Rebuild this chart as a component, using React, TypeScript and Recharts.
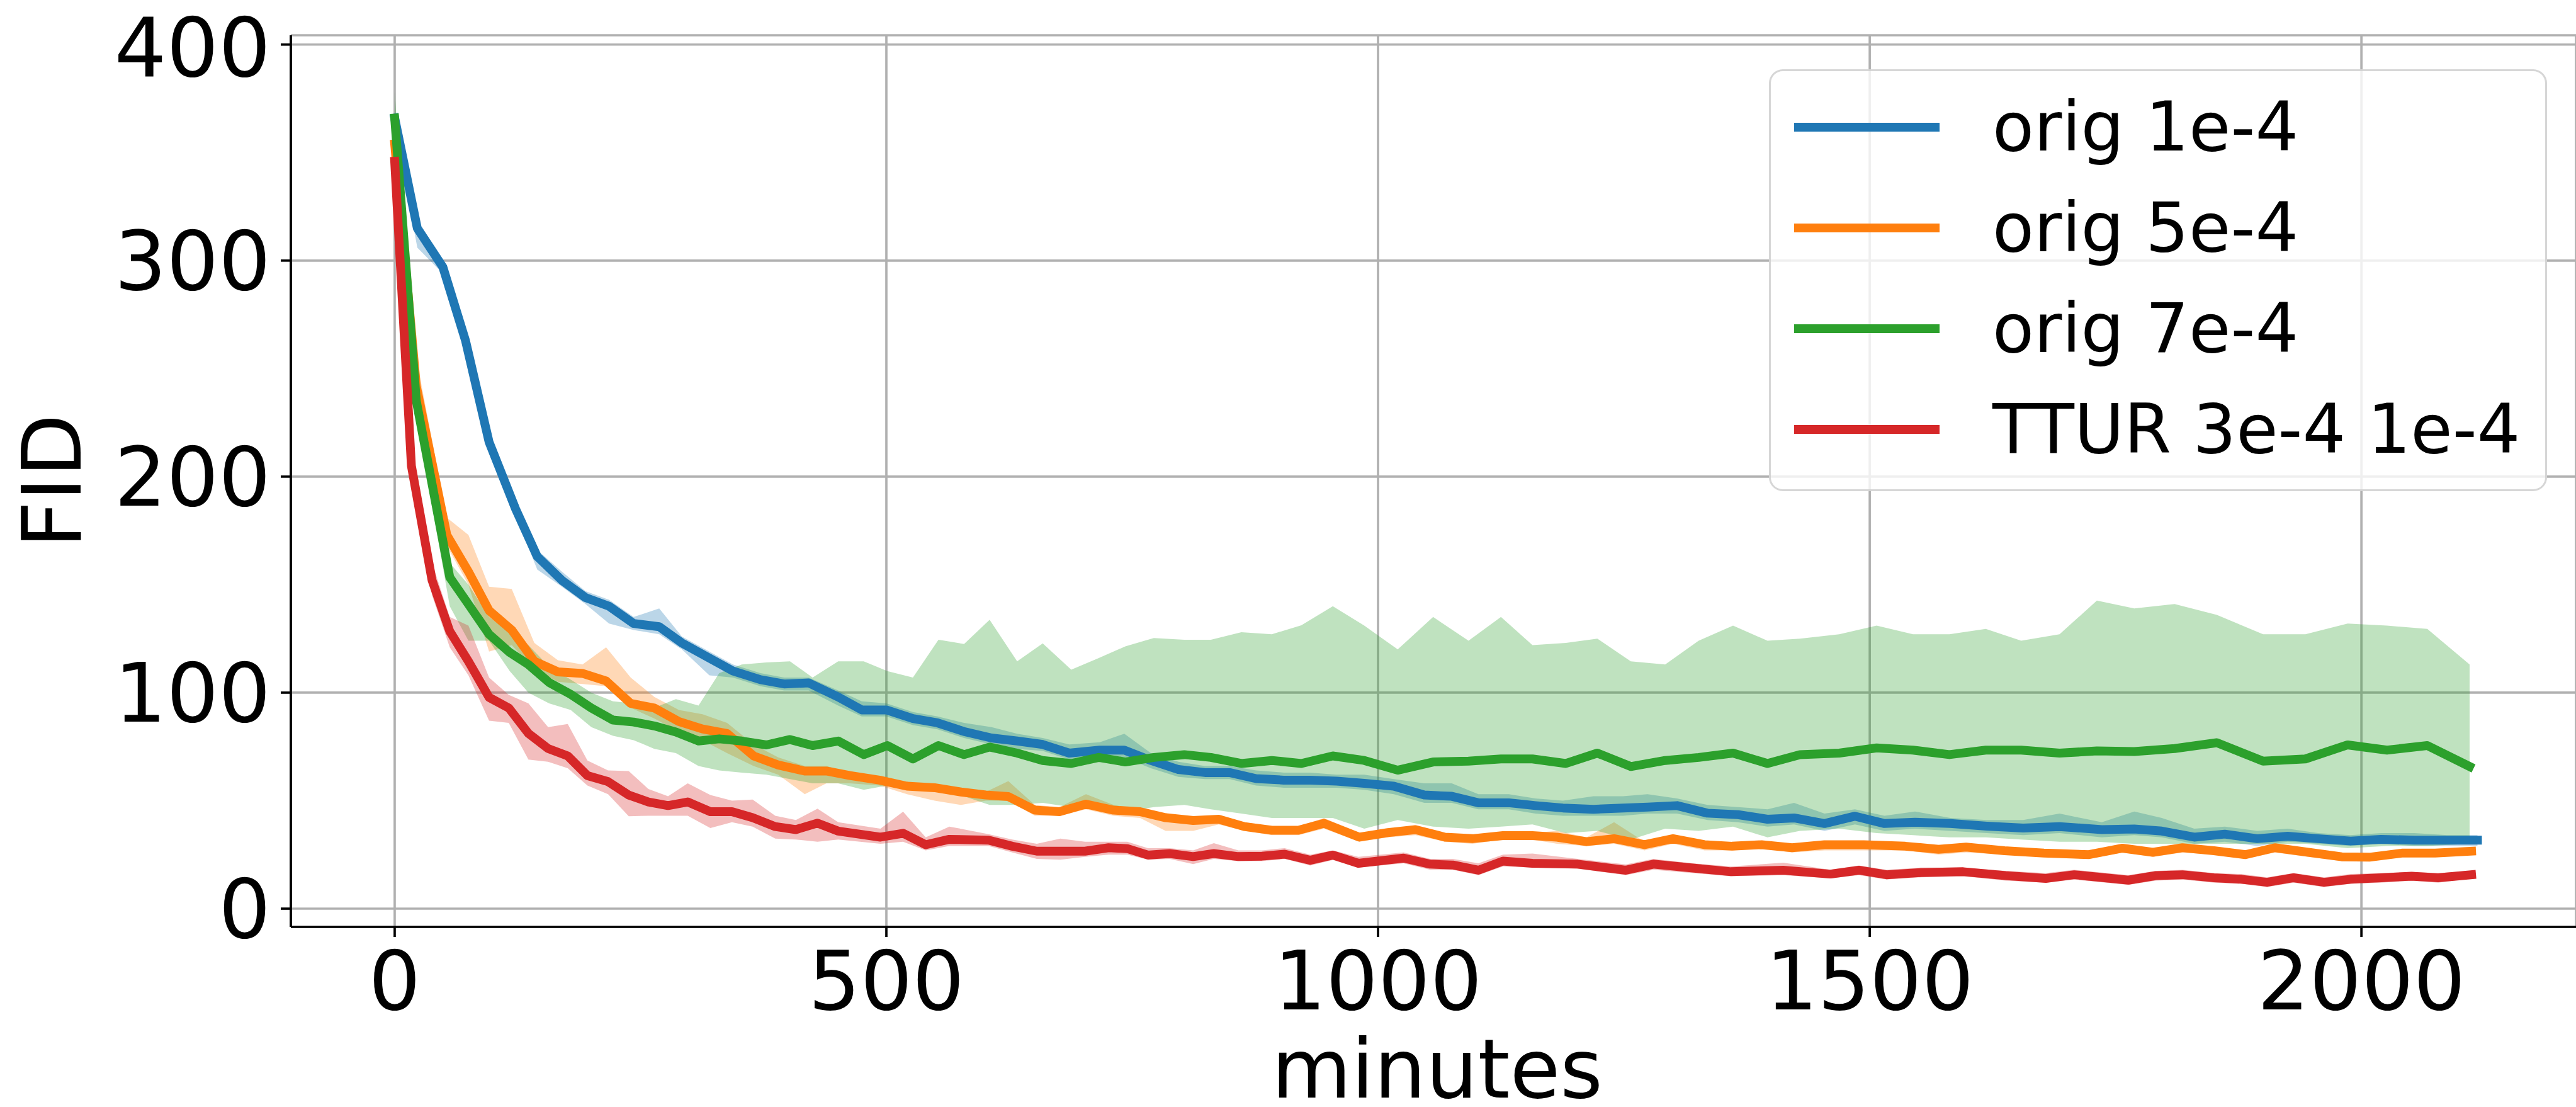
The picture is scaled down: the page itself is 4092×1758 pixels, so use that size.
import React from 'react';
import { ComposedChart, Line, Area, XAxis, YAxis, CartesianGrid, Legend } from 'recharts';

// orig 1e-4
const blueMinutes = [0, 23, 49, 72, 96, 123, 145, 170, 194, 218, 243, 269, 292, 320, 344, 372, 396, 421, 451, 475, 500, 527, 552, 579, 607, 633, 659, 686, 717, 742, 769, 797, 824, 849, 876, 904, 931, 958, 986, 1016, 1047, 1075, 1102, 1133, 1160, 1188, 1219, 1249, 1274, 1304, 1335, 1366, 1396, 1423, 1454, 1485, 1515, 1546, 1582, 1619, 1656, 1693, 1736, 1769, 1797, 1830, 1861, 1894, 1925, 1956, 1989, 2020, 2054, 2087, 2118];
const blueFid = [366, 315, 297, 263, 216, 185, 163, 152, 144, 140, 132, 130.5, 123, 116, 110, 106, 104, 104.5, 98, 92, 92, 88, 86, 82, 79, 77.6, 76, 72, 73.4, 73.4, 68.6, 64.4, 63, 63, 60.2, 59.5, 59.5, 59, 58, 56.7, 52.6, 52, 49, 49, 47.7, 46.6, 46, 46.6, 47, 47.7, 44.2, 43.5, 41.4, 42, 39.4, 42.8, 39.4, 40, 39.4, 38.2, 37.3, 38, 36.6, 36.9, 35.9, 33.1, 34.5, 32.4, 33.5, 32.4, 31.3, 32.1, 31.7, 31.7, 31.7];
const blueHigh = [368, 318, 300, 266, 219, 188, 166, 156, 147, 143, 135, 139, 126, 119, 113, 109, 107, 107, 101, 96, 95, 91, 89, 86, 84, 81, 79, 76, 77, 81, 72, 68, 66, 66, 64, 63, 63, 62, 62, 60, 58, 58, 53, 53, 51, 50, 52, 52, 53, 51, 48, 47, 46, 49, 44, 46, 43, 45, 42, 41, 41, 44, 40, 45, 42, 37, 38, 36, 37, 35, 34, 35, 35, 34, 34];
const blueLow = [363, 306, 294, 260, 213, 182, 157, 149, 141, 132, 129, 127, 120, 108, 107, 103, 101, 101, 94, 89, 89, 85, 83, 79, 76, 74, 73, 69, 70, 70, 65, 61, 60, 60, 57, 56, 56, 56, 55, 53, 49, 49, 46, 46, 44, 43, 43, 43, 44, 44, 41, 40, 38, 39, 36, 39, 36, 37, 36, 35, 34, 35, 33, 34, 33, 30, 31, 29, 31, 30, 29, 30, 29, 29, 29];

// orig 5e-4
const orangeMinutes = [0, 22, 53, 75, 96, 119, 142, 166, 191, 215, 240, 264, 289, 313, 338, 365, 390, 417, 439, 463, 493, 521, 549, 576, 601, 624, 651, 676, 703, 731, 758, 784, 812, 838, 864, 892, 919, 945, 981, 1010, 1038, 1068, 1096, 1127, 1157, 1182, 1212, 1240, 1271, 1300, 1332, 1360, 1390, 1421, 1454, 1494, 1536, 1570, 1598, 1637, 1677, 1723, 1757, 1788, 1818, 1850, 1882, 1912, 1946, 1980, 2008, 2041, 2075, 2112];
const orangeFid = [354, 242, 173, 156, 138, 129, 114.5, 109.6, 108.9, 105.4, 95, 92.9, 86.6, 83.2, 81.1, 70.7, 66.5, 63.7, 63.7, 61.6, 59.5, 56.7, 56, 54, 52.6, 51.9, 45.6, 44.9, 48.4, 45.6, 44.9, 42.1, 40.8, 41.4, 38, 36.3, 36.3, 39.5, 33.1, 35.2, 36.6, 33.1, 32.4, 33.8, 33.8, 33.1, 31, 32.4, 29.6, 32.4, 29.6, 28.9, 29.6, 28.2, 29.6, 29.6, 28.9, 27.5, 28.5, 26.8, 25.7, 25, 28, 26.1, 28.2, 26.8, 25, 28.2, 26.1, 24, 23.8, 25.7, 25.7, 26.6];
const orangeHigh = [358, 255, 181, 173, 149, 148, 123, 115, 113, 121, 107, 98, 92, 90, 86, 76, 70, 66, 66, 63, 61, 58, 57, 56, 54, 59, 48, 47, 53, 48, 46, 44, 42, 43, 40, 38, 38, 42, 35, 37, 38, 35, 34, 35, 35, 36, 33, 40, 31, 34, 31, 30, 31, 30, 31, 31, 30, 29, 30, 28, 27, 27, 29, 27, 29, 28, 27, 29, 27, 25, 25, 27, 27, 27.5];
const orangeLow = [350, 236, 168, 150, 119, 122, 111, 105, 104, 103, 93, 88, 82, 78, 72, 66, 62, 53, 58, 58, 57, 53, 50, 48, 50, 50, 43, 43, 46, 43, 42, 36, 36, 39, 36, 34, 34, 37, 31, 33, 34, 31, 30, 32, 32, 30, 29, 30, 27, 30, 27, 27, 28, 26, 27, 27, 27, 25, 26, 25, 24, 23, 26, 24, 26, 25, 23, 26, 24, 22, 22, 24, 24, 25];

// orig 7e-4
const greenMinutes = [0, 22, 56, 75, 96, 117, 136, 157, 179, 200, 222, 243, 264, 286, 309, 330, 353, 378, 402, 425, 451, 477, 501, 527, 553, 579, 605, 633, 659, 688, 716, 743, 772, 803, 830, 861, 892, 922, 954, 986, 1020, 1056, 1092, 1125, 1157, 1191, 1223, 1257, 1292, 1326, 1361, 1396, 1429, 1469, 1507, 1544, 1581, 1618, 1654, 1693, 1731, 1769, 1810, 1853, 1900, 1943, 1986, 2026, 2067, 2110];
const greenFid = [366, 235, 153.4, 140.9, 127, 118.6, 113, 104.7, 99.2, 92.9, 87.3, 86.4, 84.6, 81.8, 77.6, 78.6, 77.6, 75.8, 78.3, 75.5, 77.6, 71.3, 75.5, 69.3, 75.5, 71.3, 74.8, 72, 68.6, 67.2, 70, 67.9, 70, 71.3, 70, 67.2, 68.6, 67.2, 70.7, 68.6, 64.1, 67.9, 68.3, 69.3, 69.3, 67.2, 72, 65.8, 68.6, 70, 72, 67.2, 71.3, 72, 74.4, 73.4, 71.3, 73.4, 73.4, 72, 73, 72.7, 74.1, 76.8, 68.3, 69.3, 75.8, 73.4, 75.5, 65.8];
const greenHigh = [378, 242, 160, 150, 135, 128, 122, 112, 106, 100, 96, 95, 93, 97, 94, 109, 113, 114, 114.5, 107, 114.5, 114.5, 110, 107, 124.5, 122.5, 133.7, 114.5, 122.8, 110.6, 116, 121.4, 125.3, 124.5, 124.5, 128, 127, 131.2, 140, 131, 120, 135, 124, 135, 122, 123, 125, 114.5, 113, 124, 131, 124, 125, 127, 131, 127, 127, 129.5, 124, 127, 142.6, 139, 141, 136, 127, 127, 132, 131, 129.5, 113];
const greenLow = [355, 228, 140, 124, 124, 110, 100, 95, 92, 84, 80, 78, 74, 72, 66, 64, 63, 62, 60, 58, 58, 55, 57, 56, 54, 52, 48, 48, 49, 47, 46, 45, 47, 48, 46, 44, 42, 42, 42, 37, 41, 38, 37, 38, 39, 35, 36, 32, 37, 36, 38, 33, 36, 37, 35, 34, 33, 33, 32, 31, 31, 30, 30, 30, 30, 30, 28, 29, 29, 30];

// TTUR 3e-4 1e-4
const redMinutes = [0, 17, 38, 56, 75, 96, 116, 136, 156, 176, 196, 217, 238, 258, 278, 298, 321, 343, 364, 387, 408, 430, 451, 494, 517, 540, 564, 604, 628, 653, 677, 702, 726, 745, 766, 788, 812, 833, 858, 882, 905, 931, 954, 980, 1026, 1053, 1076, 1102, 1127, 1157, 1203, 1252, 1280, 1320, 1359, 1412, 1460, 1489, 1517, 1552, 1595, 1638, 1679, 1708, 1763, 1791, 1818, 1850, 1878, 1904, 1931, 1962, 1989, 2020, 2051, 2078, 2112];
const redFid = [346, 205, 152, 128.4, 114.5, 97.8, 92.9, 81.1, 74.1, 70.7, 61.6, 58.8, 52.6, 49.4, 47.7, 49.4, 44.9, 44.9, 42.1, 38, 36.6, 39.6, 35.9, 33.1, 34.9, 29.6, 32.1, 31.7, 28.9, 26.6, 26.6, 26.6, 28.2, 27.8, 24.8, 25.5, 24.1, 25.5, 24.1, 24.3, 25.2, 22.4, 24.8, 21, 23.4, 20.6, 20.2, 17.8, 22, 21, 20.6, 17.8, 20.6, 18.8, 17.1, 17.8, 16, 17.8, 15.7, 16.7, 17.1, 15.3, 14, 15.7, 13.2, 15.3, 15.7, 14.3, 13.6, 12.2, 14.3, 12.2, 13.6, 14.3, 15, 14.3, 15.7];
const redHigh = [350, 212, 160, 135, 131, 107, 99, 95, 84, 85.5, 68.6, 64, 63.7, 55.4, 52, 58, 52.6, 50, 50.5, 43, 41, 46.3, 40, 37, 44.9, 33, 38, 34.5, 32, 30, 32.4, 31, 31, 31, 28, 28, 27, 30.3, 27, 27, 28, 25, 27, 24, 26, 23, 23, 21, 25, 25.5, 23, 20.5, 23, 21, 19.5, 21.3, 18, 20, 18, 19, 19, 17.5, 16.5, 18, 15.5, 17.5, 18, 16.5, 16, 14.5, 16.5, 14.5, 16, 16.5, 17, 16.5, 17.5];
const redLow = [342, 198, 145, 121, 108, 87, 86, 69, 68, 65, 57, 53, 42.8, 43, 43, 43, 37.3, 40, 38, 32.4, 32, 31, 32, 30, 31, 27, 29, 29, 26, 23, 22.7, 24, 25, 25, 22.7, 23, 20.6, 23, 22, 22, 23, 20, 22.5, 19, 21, 18, 18, 15.5, 19.5, 19, 18.5, 15.5, 18, 16.5, 15, 15.5, 14, 15.5, 13.5, 14.5, 15, 13, 12, 13.5, 11, 13, 13.5, 12, 11.5, 10, 12, 10, 11.5, 12, 13, 12, 14];

const xTicks = [0, 500, 1000, 1500, 2000];
const yTicks = [0, 100, 200, 300, 400];

const FONT = '"DejaVu Sans", sans-serif';

const toRows = (minutes: number[], fid: number[], low: number[], high: number[]) =>
  minutes.map((m, i) => ({ m, fid: fid[i], band: [low[i], high[i]] }));

const series = [
  { name: 'orig 1e-4', color: '#1f77b4', rows: toRows(blueMinutes, blueFid, blueLow, blueHigh) },
  { name: 'orig 5e-4', color: '#ff7f0e', rows: toRows(orangeMinutes, orangeFid, orangeLow, orangeHigh) },
  { name: 'orig 7e-4', color: '#2ca02c', rows: toRows(greenMinutes, greenFid, greenLow, greenHigh) },
  { name: 'TTUR 3e-4 1e-4', color: '#d62728', rows: toRows(redMinutes, redFid, redLow, redHigh) },
];

const LegendBox = () => (
  <div
    style={{
      position: 'relative',
      width: 1236,
      height: 670,
      boxSizing: 'border-box',
      border: '3.7px solid rgba(204,204,204,0.8)',
      borderRadius: 22,
      background: 'rgba(255,255,255,0.8)',
    }}
  >
    {series.map((s, i) => (
      <div key={s.name} style={{ position: 'absolute', left: 0, top: 9 + i * 160, height: 160, width: '100%' }}>
        <div style={{ position: 'absolute', left: 37, top: 73, width: 231, height: 14, background: s.color }} />
        <div
          style={{
            position: 'absolute',
            left: 352,
            top: 0,
            lineHeight: '160px',
            fontSize: 108,
            fontFamily: FONT,
            color: '#000',
            whiteSpace: 'nowrap',
          }}
        >
          {s.name}
        </div>
      </div>
    ))}
  </div>
);

const XLabel = (props: any) => {
  const { viewBox } = props;
  return (
    <text x={viewBox.x + viewBox.width / 2 + 6} y={1743} textAnchor="middle" fontSize={130} fontFamily={FONT} fill="#000">
      minutes
    </text>
  );
};

const YLabel = () => (
  <text x={128} y={764} transform="rotate(-90, 128, 764)" textAnchor="middle" fontSize={130} fontFamily={FONT} fill="#000">
    FID
  </text>
);

export default function App() {
  const axisStyle = { stroke: '#000', strokeWidth: 3.7 };
  const tickStyle = { fill: '#000', fontSize: 130, fontFamily: FONT };

  return (
    <div style={{ width: 4092, height: 1758, background: '#fff' }}>
      <style>{'body{margin:0}'}</style>
      <ComposedChart width={4092} height={1758} margin={{ top: 56, right: 0, bottom: 0, left: 0 }}>
        <XAxis
          dataKey="m"
          type="number"
          domain={[-105.6, 2218.2]}
          ticks={xTicks}
          allowDataOverflow
          height={286}
          tickSize={16}
          tickMargin={23}
          axisLine={axisStyle}
          tickLine={axisStyle}
          tick={tickStyle}
          label={{ content: XLabel }}
        />
        <XAxis
          xAxisId="top"
          orientation="top"
          type="number"
          domain={[-105.6, 2218.2]}
          height={0}
          tick={false}
          tickLine={false}
          axisLine={axisStyle}
        />
        <YAxis
          type="number"
          domain={[-8.45, 404.3]}
          ticks={yTicks}
          allowDataOverflow
          width={462}
          tickSize={16}
          tickMargin={16}
          axisLine={axisStyle}
          tickLine={axisStyle}
          tick={tickStyle}
          label={{ content: YLabel }}
        />
        {series.map((s) => (
          <Area
            key={`band-${s.name}`}
            data={s.rows}
            dataKey="band"
            type="linear"
            fill={s.color}
            fillOpacity={0.3}
            stroke="none"
            dot={false}
            activeDot={false}
            legendType="none"
            isAnimationActive={false}
          />
        ))}
        <CartesianGrid stroke="#b0b0b0" strokeWidth={3.7} />
        {series.map((s) => (
          <Line
            key={s.name}
            data={s.rows}
            dataKey="fid"
            name={s.name}
            type="linear"
            stroke={s.color}
            strokeWidth={14}
            strokeLinejoin="round"
            strokeLinecap="square"
            dot={false}
            activeDot={false}
            isAnimationActive={false}
          />
        ))}
        <Legend
          layout="horizontal"
          verticalAlign="middle"
          align="center"
          wrapperStyle={{ left: 2810, top: 110, width: 1236, height: 670 }}
          content={() => <LegendBox />}
        />
      </ComposedChart>
    </div>
  );
}
